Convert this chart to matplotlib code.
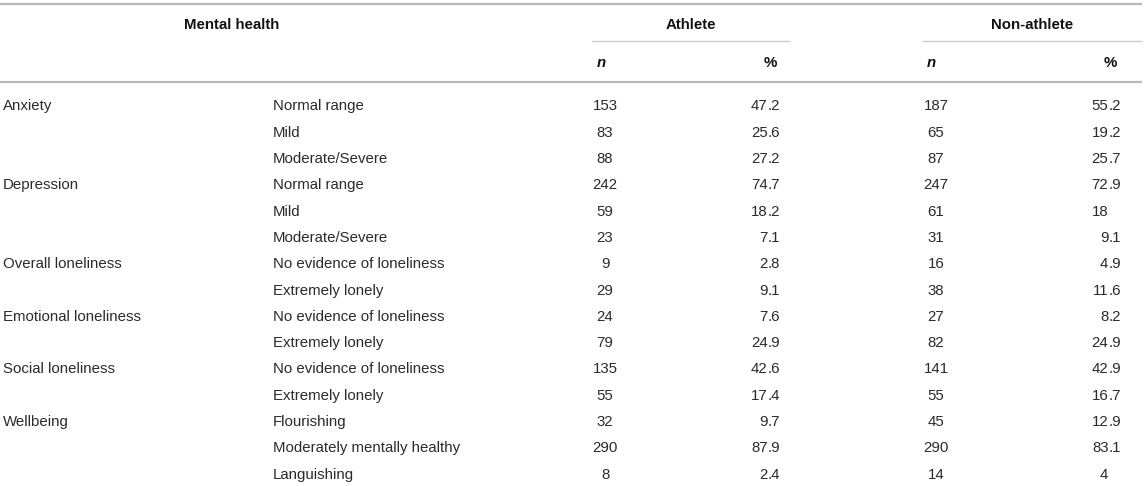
import matplotlib
matplotlib.use("Agg")
import matplotlib.pyplot as plt

# ---- data ----
header_measure = "Mental health"
groups = ["Athlete", "Non-athlete"]
sub_headers = ["n", "%"]
measures = ["Anxiety", "", "", "Depression", "", "", "Overall loneliness", "",
            "Emotional loneliness", "", "Social loneliness", "", "Wellbeing", "", ""]
levels = ["Normal range", "Mild", "Moderate/Severe",
          "Normal range", "Mild", "Moderate/Severe",
          "No evidence of loneliness", "Extremely lonely",
          "No evidence of loneliness", "Extremely lonely",
          "No evidence of loneliness", "Extremely lonely",
          "Flourishing", "Moderately mentally healthy", "Languishing"]
athlete_n = [153, 83, 88, 242, 59, 23, 9, 29, 24, 79, 135, 55, 32, 290, 8]
athlete_pct = [47.2, 25.6, 27.2, 74.7, 18.2, 7.1, 2.8, 9.1, 7.6, 24.9, 42.6, 17.4, 9.7, 87.9, 2.4]
nonathlete_n = [187, 65, 87, 247, 61, 31, 16, 38, 27, 82, 141, 55, 45, 290, 14]
nonathlete_pct = [55.2, 19.2, 25.7, 72.9, 18, 9.1, 4.9, 11.6, 8.2, 24.9, 42.9, 16.7, 12.9, 83.1, 4]

# ---- layout (pixel coordinates) ----
W, H = 1146, 486
DPI = 100
FS = 15 * 72 / DPI          # 15 px font
FAMILY = ["Liberation Sans", "DejaVu Sans"]
BODY = "#2b2b2b"
HEAD = "#111111"
RULE = "#b9b9b9"
SUBRULE = "#cfcfcf"

fig = plt.figure(figsize=(W / DPI, H / DPI), dpi=DPI)
ax = fig.add_axes([0, 0, 1, 1])
ax.set_xlim(0, W)
ax.set_ylim(H, 0)
ax.axis("off")

table_right = 1142
# rules
ax.plot([0, table_right], [4, 4], color=RULE, lw=1.6, solid_capstyle="butt")
ax.plot([0, table_right], [82, 82], color=RULE, lw=1.6, solid_capstyle="butt")
group_spans = [(592, 790), (922, table_right)]
for (x0, x1) in group_spans:
    ax.plot([x0, x1], [40.7, 40.7], color=SUBRULE, lw=1.0, solid_capstyle="butt")

BASE = 5.4  # offset from visual center to baseline

def txt(x, y, s, ha="left", weight="normal", style="normal", color=BODY):
    ax.text(x, y + BASE, s, ha=ha, va="baseline", fontsize=FS, family=FAMILY,
            fontweight=weight, fontstyle=style, color=color)

# header row
txt(232, 24, header_measure, ha="center", weight="bold", color=HEAD)
group_centers = [691, 1032]
for g, cx in zip(groups, group_centers):
    txt(cx, 24, g, ha="center", weight="bold", color=HEAD)

n_head_x = [601, 931]
pct_head_right = [777, 1117]
for nx, px in zip(n_head_x, pct_head_right):
    txt(nx, 62, sub_headers[0], ha="center", weight="bold", style="italic", color=HEAD)
    txt(px, 62, sub_headers[1], ha="right", weight="bold", color=HEAD)

# body rows
y0, dy = 105, 26.3
n_centers = [605, 936]
dec_anchor = [767.5, 1108.5]

def pct_text(xd, y, v):
    s = f"{v:g}"
    if "." in s:
        ip, fp = s.split(".")
        txt(xd, y, ip, ha="right")
        txt(xd, y, "." + fp, ha="left")
    else:
        txt(xd, y, s, ha="right")

for i in range(len(levels)):
    y = y0 + i * dy
    if measures[i]:
        txt(3, y, measures[i])
    txt(273, y, levels[i])
    txt(n_centers[0], y, str(athlete_n[i]), ha="center")
    pct_text(dec_anchor[0], y, athlete_pct[i])
    txt(n_centers[1], y, str(nonathlete_n[i]), ha="center")
    pct_text(dec_anchor[1], y, nonathlete_pct[i])

fig.savefig("out.png", dpi=DPI, facecolor="white")
